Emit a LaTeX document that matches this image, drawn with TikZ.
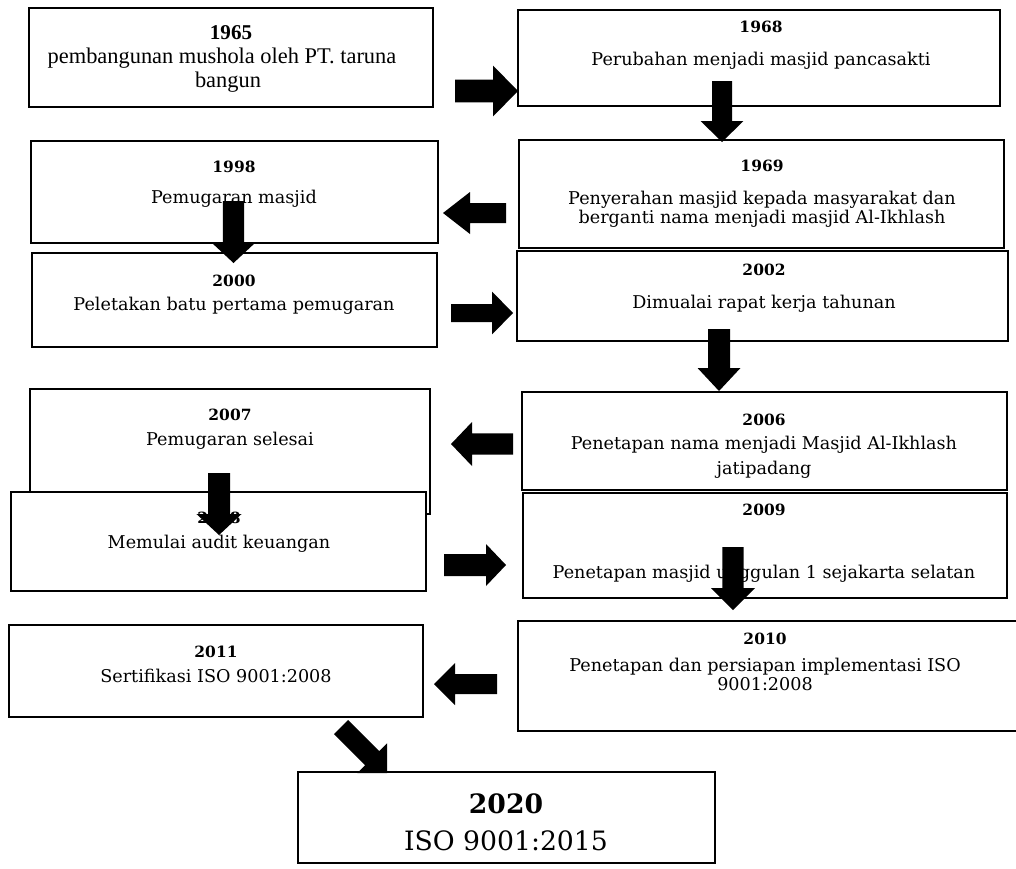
\documentclass[tikz,border=0pt]{standalone}
\usepackage{fontspec}
\setmainfont{DejaVu Serif}
\newfontfamily\timesf{Liberation Serif}
\usetikzlibrary{calc}
\newcommand\tlbox[5]{\node[boxst, minimum width={(#4-#2)*0.75pt}, minimum height={(#5-#3)*0.75pt}] (#1) at ({(#2+#4)/2},{(#3+#5)/2}) {};}
\newcommand\blockarrow[6]{%
  \coordinate (#1s) at #2; \coordinate (#1e) at #3;
  \coordinate (#1b) at ($(#1e)!#6!(#1s)$);
  \fill[arrowfill] ($(#1s)!#4!90:(#1e)$) -- ($(#1b)!#4!90:(#1e)$) -- ($(#1b)!#5!90:(#1e)$) -- (#1e)
    -- ($(#1b)!#5!-90:(#1e)$) -- ($(#1b)!#4!-90:(#1e)$) -- ($(#1s)!#4!-90:(#1e)$) -- cycle;}
\begin{document}
\begin{tikzpicture}[x=0.75pt,y=-0.75pt,
  boxst/.style={draw=black, line width=1.4pt, fill=white, rectangle, inner sep=0pt},
  yr/.style={anchor=base, inner sep=0pt, font=\fontsize{11.6}{13}\selectfont\bfseries},
  tx/.style={anchor=base, inner sep=0pt, font=\fontsize{13.2}{15}\selectfont},
  tyr/.style={anchor=base, inner sep=0pt, font=\timesf\fontsize{15.8}{18}\selectfont\bfseries},
  ttx/.style={anchor=base, inner sep=0pt, font=\timesf\fontsize{16.8}{18}\selectfont},
  byr/.style={anchor=base, inner sep=0pt, font=\fontsize{20}{22}\selectfont\bfseries},
  btx/.style={anchor=base, inner sep=0pt, font=\fontsize{20}{22}\selectfont},
  arrowfill/.style={fill=black, draw=none}]
\useasboundingbox (0,0) rectangle (1016,868);

% 1965
\tlbox{b1965}{29}{8}{433}{107}
\node[tyr] (t1965a) at (231,39) {1965};
\node[ttx] (t1965b) at (222,63) {pembangunan mushola oleh PT. taruna};
\node[ttx] (t1965c) at (228,87) {bangun};

% 1968
\tlbox{b1968}{518}{10}{1000}{106}
\node[yr] (t1968a) at (761,32) {1968};
\node[tx] (t1968b) at (761,65) {Perubahan menjadi masjid pancasakti};

% 1998
\tlbox{b1998}{31}{141}{438}{243}
\node[yr] (t1998a) at (234,172) {1998};
\node[tx] (t1998b) at (234,203) {Pemugaran masjid};

% 1969
\tlbox{b1969}{519}{140}{1004}{248}
\node[yr] (t1969a) at (762,171) {1969};
\node[tx] (t1969b) at (762,204) {Penyerahan masjid kepada masyarakat dan};
\node[tx] (t1969c) at (762,223) {berganti nama menjadi masjid Al-Ikhlash};

% 2000
\tlbox{b2000}{32}{253}{437}{347}
\node[yr] (t2000a) at (234,286) {2000};
\node[tx] (t2000b) at (234,310) {Peletakan batu pertama pemugaran};

% 2002
\tlbox{b2002}{517}{251}{1008}{341}
\node[yr] (t2002a) at (764,275) {2002};
\node[tx] (t2002b) at (764,308) {Dimualai rapat kerja tahunan};

% 2007
\tlbox{b2007}{30}{389}{430}{514}
\node[yr] (t2007a) at (230,420) {2007};
\node[tx] (t2007b) at (230,445) {Pemugaran selesai};

% 2006
\tlbox{b2006}{522}{392}{1007}{490}
\node[yr] (t2006a) at (764,425) {2006};
\node[tx] (t2006b) at (764,449) {Penetapan nama menjadi Masjid Al-Ikhlash};
\node[tx] (t2006c) at (764,474) {jatipadang};

% 2008
\tlbox{b2008}{11}{492}{426}{591}
\node[yr] (t2008a) at (219,523) {2008};
\node[tx] (t2008b) at (219,548) {Memulai audit keuangan};

% 2009
\tlbox{b2009}{523}{493}{1007}{598}
\node[yr] (t2009a) at (764,515) {2009};
\node[tx] (t2009b) at (764,578) {Penetapan masjid unggulan 1 sejakarta selatan};

% 2011
\tlbox{b2011}{9}{625}{423}{717}
\node[yr] (t2011a) at (216,657) {2011};
\node[tx] (t2011b) at (216,682) {Sertifikasi ISO 9001:2008};

% 2010
\tlbox{b2010}{518}{621}{1025}{731}
\node[yr] (t2010a) at (765,644) {2010};
\node[tx] (t2010b) at (765,671) {Penetapan dan persiapan implementasi ISO};
\node[tx] (t2010c) at (765,690) {9001:2008};

% 2020
\tlbox{b2020}{298}{772}{715}{863}
\node[byr] (t2020a) at (506,813) {2020};
\node[btx] (t2020b) at (506,850) {ISO 9001:2015};

% block arrows
\blockarrow{a1}{(455,91)}{(518,91)}{8.6pt}{19.1pt}{18.75pt}
\blockarrow{a2}{(722,81)}{(722,142)}{7.5pt}{16.1pt}{15.75pt}
\blockarrow{a3}{(506,213)}{(443,213)}{7.5pt}{15.75pt}{20.25pt}
\blockarrow{a4}{(233.5,201)}{(233.5,263)}{7.9pt}{16.1pt}{15pt}
\blockarrow{a5}{(451,313)}{(513,313)}{6.75pt}{16.1pt}{15.75pt}
\blockarrow{a6}{(719,329)}{(719,391)}{8.25pt}{16.1pt}{17.25pt}
\blockarrow{a7}{(513,444)}{(451,444)}{7.9pt}{16.5pt}{15.75pt}
\blockarrow{a8}{(219,473)}{(219,535)}{8.25pt}{16.9pt}{15.75pt}
\blockarrow{a9}{(444,565)}{(506,565)}{8.25pt}{15.75pt}{15pt}
\blockarrow{a10}{(733,547)}{(733,610)}{7.9pt}{16.5pt}{16.5pt}
\blockarrow{a11}{(497,684)}{(434,684)}{7.5pt}{15.75pt}{15.75pt}
\blockarrow{a12}{(341,727)}{(387,773)}{7.5pt}{15.75pt}{15.75pt}
\end{tikzpicture}
\end{document}
